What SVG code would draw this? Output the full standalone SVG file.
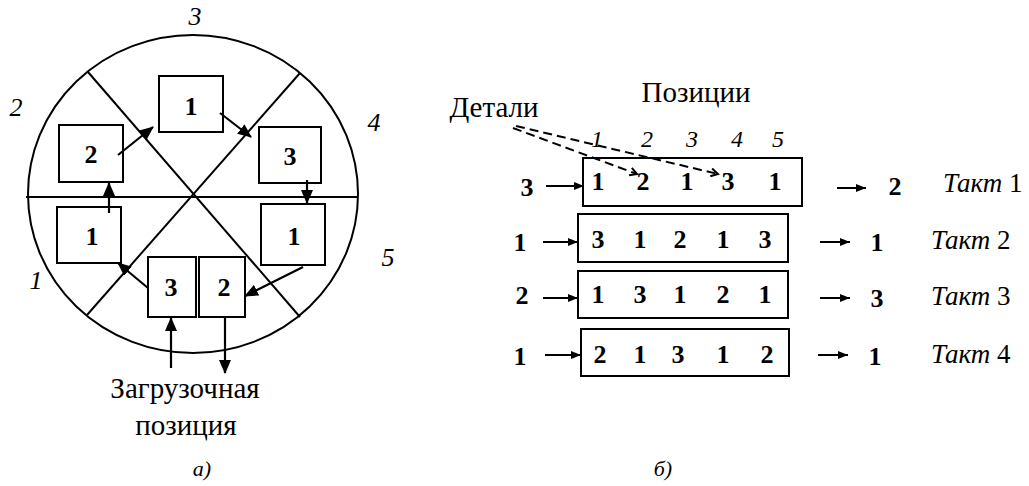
<svg xmlns="http://www.w3.org/2000/svg" width="1029" height="486" viewBox="0 0 1029 486">
<style>
text{font-family:"Liberation Serif","Times New Roman",serif;fill:#000}
.b{font-weight:bold;font-size:26px;text-anchor:middle}
.i{font-style:italic;font-size:26px;text-anchor:middle}
.p{font-style:italic;font-size:24px;text-anchor:middle}
.r{font-size:29px;text-anchor:middle}
.t{font-size:27px}
.box{fill:#fff;stroke:#000;stroke-width:2}
.row{fill:none;stroke:#000;stroke-width:2}
.ln{fill:none;stroke:#000;stroke-width:2}
.ar{fill:none;stroke:#000;stroke-width:2.2;marker-end:url(#ah)}
.ars{fill:none;stroke:#000;stroke-width:2;marker-end:url(#ahs)}
.ds{fill:none;stroke:#000;stroke-width:2;stroke-dasharray:9 5}
</style>
<defs>
<marker id="ah" markerUnits="userSpaceOnUse" markerWidth="14" markerHeight="12" refX="13" refY="6" orient="auto"><path d="M0,0 L14,6 L0,12 z" fill="#000"/></marker>
<marker id="ahs" markerUnits="userSpaceOnUse" markerWidth="10" markerHeight="8" refX="10" refY="4" orient="auto"><path d="M0,0 L10,4 L0,8 z" fill="#000"/></marker>
<marker id="ch" markerUnits="userSpaceOnUse" markerWidth="10" markerHeight="10" refX="8" refY="5" orient="auto"><path d="M1,1 L8,5 L1,9" fill="none" stroke="#000" stroke-width="2"/></marker>
</defs>

<g id="wheel">
<ellipse cx="193" cy="194" rx="165" ry="159" class="ln"/>
<line x1="26" y1="197" x2="357" y2="197" class="ln"/>
<line x1="88" y1="72" x2="300" y2="317" class="ln"/>
<line x1="300" y1="73" x2="87" y2="315" class="ln"/>
</g>

<g id="box-top-1"><rect x="159" y="76" width="64" height="56" class="box"/><text x="191" y="115" class="b">1</text></g>
<g id="box-left-2"><rect x="59" y="125" width="64" height="57" class="box"/><text x="91" y="163" class="b">2</text></g>
<g id="box-right-3"><rect x="259" y="127" width="62" height="56" class="box"/><text x="290" y="165" class="b">3</text></g>
<g id="box-lowleft-1"><rect x="57" y="207" width="64" height="56" class="box"/><text x="92" y="245" class="b">1</text></g>
<g id="box-lowright-1"><rect x="261" y="204" width="64" height="61" class="box"/><text x="294" y="245" class="b">1</text></g>
<g id="box-bottom-3"><rect x="148" y="257" width="48" height="60" class="box"/><text x="171" y="296" class="b">3</text></g>
<g id="box-bottom-2"><rect x="199" y="257" width="46" height="60" class="box"/><text x="224" y="296" class="b">2</text></g>

<g id="wheel-labels">
<text x="195" y="25" class="i">3</text>
<text x="16" y="116" class="i">2</text>
<text x="374" y="131" class="i">4</text>
<text x="388" y="266" class="i">5</text>
<text x="36" y="289" class="i">1</text>
<text x="185" y="398" class="r">Загрузочная</text>
<text x="186" y="435" class="r">позиция</text>
<text x="202" y="476" class="i" style="font-size:22px">а)</text>
</g>

<g id="table-header">
<text x="696" y="102" class="r">Позиции</text>
<text x="494" y="117" class="r">Детали</text>
<text x="597" y="147" class="p">1</text>
<text x="647" y="147" class="p">2</text>
<text x="692" y="147" class="p">3</text>
<text x="737" y="147" class="p">4</text>
<text x="778" y="147" class="p">5</text>
</g>

<g id="row-1">
<rect x="583" y="158" width="219" height="48" class="row"/>
<text x="527" y="196" class="b">3</text>
<text x="598" y="190" class="b">1</text><text x="643" y="190" class="b">2</text><text x="687" y="190" class="b">1</text><text x="728" y="190" class="b">3</text><text x="775" y="190" class="b">1</text>
<text x="895" y="195" class="b">2</text>
<text x="943" y="192" class="t"><tspan font-style="italic">Такт</tspan> 1</text>
</g>
<g id="row-2">
<rect x="578" y="214" width="210" height="48" class="row"/>
<text x="520" y="251" class="b">1</text>
<text x="598" y="248" class="b">3</text><text x="640" y="248" class="b">1</text><text x="680" y="248" class="b">2</text><text x="723" y="248" class="b">1</text><text x="765" y="248" class="b">3</text>
<text x="877" y="251" class="b">1</text>
<text x="931" y="249" class="t"><tspan font-style="italic">Такт</tspan> 2</text>
</g>
<g id="row-3">
<rect x="578" y="271" width="210" height="47" class="row"/>
<text x="522" y="304" class="b">2</text>
<text x="598" y="303" class="b">1</text><text x="640" y="303" class="b">3</text><text x="680" y="303" class="b">1</text><text x="723" y="303" class="b">2</text><text x="765" y="303" class="b">1</text>
<text x="877" y="307" class="b">3</text>
<text x="931" y="305" class="t"><tspan font-style="italic">Такт</tspan> 3</text>
</g>
<g id="row-4">
<rect x="581" y="329" width="208" height="47" class="row"/>
<text x="520" y="365" class="b">1</text>
<text x="600" y="363" class="b">2</text><text x="640" y="363" class="b">1</text><text x="678" y="363" class="b">3</text><text x="723" y="363" class="b">1</text><text x="767" y="363" class="b">2</text>
<text x="875" y="365" class="b">1</text>
<text x="931" y="363" class="t"><tspan font-style="italic">Такт</tspan> 4</text>
</g>
<text x="663" y="476" class="i" style="font-size:22px">б)</text>

<g id="connectors">
<line x1="118" y1="155" x2="153" y2="127" class="ar"/>
<line x1="220" y1="113" x2="251" y2="137" class="ar"/>
<line x1="307" y1="180" x2="307" y2="203" class="ar"/>
<line x1="303" y1="267" x2="245" y2="296" class="ar"/>
<line x1="148" y1="288" x2="118" y2="263" class="ar"/>
<line x1="109" y1="213" x2="109" y2="183" class="ar"/>
<line x1="171" y1="368" x2="171" y2="318" class="ar"/>
<line x1="225" y1="317" x2="225" y2="373" class="ar"/>
<line x1="546" y1="186" x2="584" y2="186" class="ars"/>
<line x1="543" y1="242" x2="578" y2="242" class="ars"/>
<line x1="543" y1="298" x2="578" y2="298" class="ars"/>
<line x1="545" y1="355" x2="581" y2="355" class="ars"/>
<line x1="837" y1="188" x2="866" y2="188" class="ars"/>
<line x1="820" y1="242" x2="850" y2="242" class="ars"/>
<line x1="820" y1="298" x2="850" y2="298" class="ars"/>
<line x1="818" y1="355" x2="848" y2="355" class="ars"/>
<path d="M513,128 L637,174" class="ds" marker-end="url(#ch)"/>
<path d="M516,126 L718,174" class="ds" marker-end="url(#ch)"/>
</g>
</svg>
